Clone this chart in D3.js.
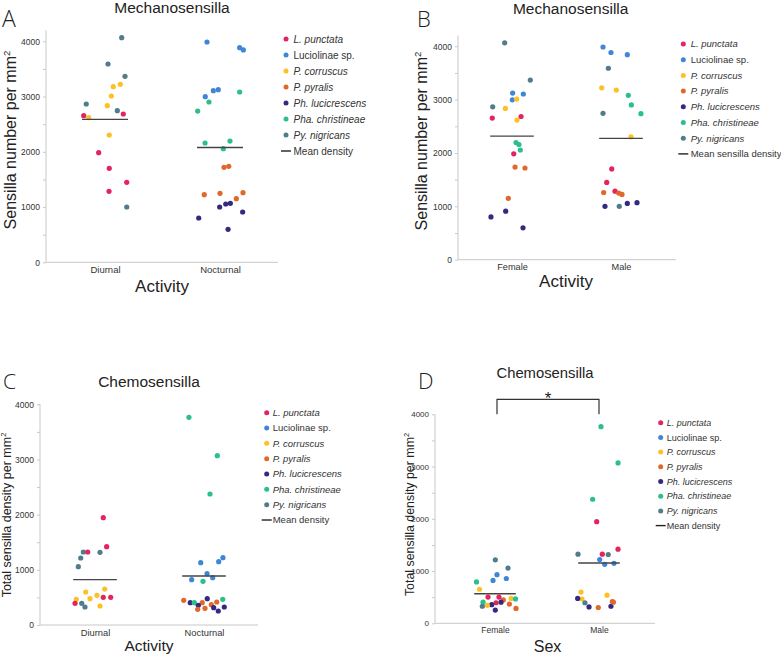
<!DOCTYPE html>
<html>
<head>
<meta charset="utf-8">
<script src="https://cdn.jsdelivr.net/npm/d3@7"></script>
<style>
  body { margin: 0; background: #fff; }
  svg { display: block; font-family: "Liberation Sans", Arial, sans-serif; }
</style>
</head>
<body>
<svg id="fig" width="781" height="656"></svg>
<script>
// species legend
const species = ["L. punctata", "Luciolinae sp.", "P. corruscus", "P. pyralis", "Ph. lucicrescens", "Pha. christineae", "Py. nigricans"];
const speciesItalic = [true, false, true, true, true, true, true];
const speciesColors = ["#e3245e", "#3f87d6", "#fcc125", "#e1672b", "#35297f", "#2abf8c", "#4f7d8b"];

const activityGroups = ["Diurnal", "Nocturnal"];
const sexGroups = ["Female", "Male"];
const yTicks = [0, 1000, 2000, 3000, 4000];
const yMinorTicks = [500, 1500, 2500, 3500];

// [species index, group index, density per mm2, jitter (fraction of group spacing)]
const mechActivity = [
  [6,0,4065,0.145],[6,0,3589,0.026],[6,0,3366,0.174],[2,0,3222,0.133],[2,0,3179,0.072],
  [2,0,3010,0.055],[6,0,2865,-0.163],[2,0,2835,0.020],[6,0,2744,0.107],[0,0,2684,0.159],
  [0,0,2654,-0.185],[2,0,2618,-0.142],[2,0,2304,0.037],[0,0,1984,-0.055],[0,0,1701,0.037],
  [0,0,1448,0.189],[0,0,1285,0.035],[6,0,1001,0.189],
  [1,1,3987,-0.113],[1,1,3884,0.171],[1,1,3843,0.203],[1,1,3124,-0.015],[1,1,3106,-0.058],
  [5,1,3082,0.171],[1,1,2997,-0.128],[5,1,2901,-0.096],[5,1,2738,-0.194],[5,1,2195,0.087],
  [5,1,2159,-0.130],[5,1,2056,0.029],[3,1,1737,0.076],[3,1,1719,0.035],[3,1,1260,0.200],
  [3,1,1249,0.000],[3,1,1224,-0.137],[3,1,1151,0.142],[4,1,1068,0.090],[4,1,1055,0.050],
  [4,1,1001,-0.003],[4,1,910,0.197],[4,1,802,-0.185],[4,1,597,0.070]
];

const mechSex = [
  [6,0,4065,-0.067],[6,0,3366,0.168],[1,0,3124,0.006],[1,0,3106,0.104],[1,0,2997,0.003],
  [2,0,3010,0.043],[6,0,2865,-0.177],[2,0,2835,-0.061],[0,0,2684,0.083],[0,0,2654,-0.181],
  [2,0,2618,0.046],[5,0,2195,0.037],[5,0,2159,0.064],[5,0,2056,0.076],[0,0,1984,0.016],
  [3,0,1737,0.028],[3,0,1719,0.119],[3,0,1151,-0.034],[4,0,910,-0.058],[4,0,802,-0.193],
  [4,0,597,0.101],
  [1,1,3987,-0.165],[1,1,3884,-0.092],[1,1,3843,0.058],[6,1,3589,-0.116],[2,1,3222,-0.177],
  [2,1,3179,-0.043],[5,1,3082,0.067],[5,1,2901,0.095],[5,1,2738,0.183],[6,1,2744,-0.165],
  [2,1,2304,0.092],[0,1,1701,-0.085],[0,1,1448,-0.131],[0,1,1285,-0.055],[3,1,1260,-0.159],
  [3,1,1249,-0.021],[3,1,1224,0.009],[4,1,1001,-0.147],[6,1,1001,-0.016],[4,1,1055,0.058],
  [4,1,1068,0.147]
];

const chemoActivity = [
  [0,0,1945,0.076],[0,0,1419,0.107],[6,0,1323,-0.107],[0,0,1323,-0.067],[6,0,1317,0.046],
  [6,0,1214,-0.131],[6,0,1057,-0.153],[2,0,652,0.089],[2,0,598,-0.085],[2,0,538,0.018],
  [0,0,502,0.076],[0,0,502,0.144],[2,0,477,-0.046],[2,0,465,-0.172],[0,0,393,-0.183],
  [6,0,393,-0.122],[2,0,344,0.046],[6,0,326,-0.092],
  [5,1,3764,-0.138],[5,1,3069,0.122],[5,1,2374,0.055],[1,1,1220,0.174],[1,1,1148,0.135],
  [1,1,1129,-0.030],[1,1,930,0.028],[1,1,857,0.080],[1,1,821,-0.113],[5,1,791,-0.009],
  [4,1,477,0.030],[5,1,466,0.172],[3,1,447,-0.186],[3,1,417,0.117],[4,1,404,-0.126],
  [5,1,404,-0.089],[3,1,404,-0.016],[3,1,368,0.067],[4,1,357,-0.052],[4,1,326,0.186],
  [4,1,314,0.089],[3,1,302,0.009],[3,1,284,-0.058],[4,1,254,0.131]
];

const chemoSex = [
  [6,0,1214,0.003],[6,0,1057,0.125],[1,0,930,0.019],[1,0,857,0.109],[1,0,821,-0.019],
  [5,0,791,-0.178],[2,0,652,-0.149],[0,0,502,-0.067],[0,0,502,0.038],[2,0,477,0.154],
  [5,0,466,0.197],[3,0,447,0.080],[5,0,404,-0.115],[4,0,404,0.058],[0,0,393,0.010],
  [3,0,368,0.138],[4,0,357,-0.032],[2,0,344,-0.074],[6,0,326,-0.122],[3,0,284,0.202],
  [4,0,254,0.003],
  [5,1,3764,0.019],[5,1,3069,0.183],[5,1,2374,-0.061],[0,1,1945,-0.022],[0,1,1419,0.183],
  [6,1,1323,-0.202],[0,1,1323,0.032],[6,1,1317,0.089],[1,1,1220,0.007],[1,1,1148,0.144],
  [1,1,1129,0.055],[2,1,598,-0.173],[2,1,538,0.077],[2,1,465,-0.163],[4,1,477,-0.205],
  [6,1,393,-0.135],[4,1,326,0.115],[4,1,314,-0.096],[3,1,417,0.128],[3,1,404,0.138],
  [3,1,302,-0.007]
];

var svg = d3.select("#fig");

var panels = [
  {letter: "A", data: mechActivity, groups: activityGroups,
   axisX: 46, axisEnd: 278, c0: 105, c1: 220, y0: 262.3, y4000: 41.3, yTop: 4200,
   title: "Mechanosensilla", titleX: 172, titleY: 13, titleSize: 15.5,
   letterX: 2, letterY: 27, letterSize: 23,
   yLabel: "Sensilla number per mm", yLabelX: 16, yLabelY: 140, yLabelSize: 16,
   xLabel: "Activity", xLabelX: 162, xLabelY: 292, xLabelSize: 17,
   tickSize: 8.5, catSize: 9.5,
   legendX: 286, legendY: 39, legendDy: 16, legendSize: 10, legendDx: 7.5, meanLabel: "Mean density"},
  {letter: "B", data: mechSex, groups: sexGroups,
   axisX: 458, axisEnd: 676, c0: 512, c1: 621, y0: 259.7, y4000: 46.3, yTop: 4200,
   title: "Mechanosensilla", titleX: 570.7, titleY: 14, titleSize: 15.5,
   letterX: 417, letterY: 26.7, letterSize: 22,
   yLabel: "Sensilla number per mm", yLabelX: 427, yLabelY: 141, yLabelSize: 16,
   xLabel: "Activity", xLabelX: 566, xLabelY: 287, xLabelSize: 17,
   tickSize: 8.5, catSize: 9.2,
   legendX: 683.3, legendY: 44, legendDy: 15.7, legendSize: 9.5, legendDx: 7.4, meanLabel: "Mean sensilla density"},
  {letter: "C", data: chemoActivity, groups: activityGroups,
   axisX: 40, axisEnd: 258, c0: 95, c1: 204, y0: 625, y4000: 404.3, yTop: 4000,
   title: "Chemosensilla", titleX: 149, titleY: 386.7, titleSize: 15.5,
   letterX: 3, letterY: 389, letterSize: 21,
   yLabel: "Total sensilla density per mm", yLabelX: 11, yLabelY: 515, yLabelSize: 12.5,
   xLabel: "Activity", xLabelX: 149, xLabelY: 651, xLabelSize: 15.5,
   tickSize: 8.5, catSize: 9.3,
   legendX: 266.7, legendY: 412.7, legendDy: 15.33, legendSize: 9.5, legendDx: 6, meanLabel: "Mean density"},
  {letter: "D", data: chemoSex, groups: sexGroups,
   axisX: 435, axisEnd: 655, c0: 495, c1: 599, y0: 623.3, y4000: 414.3, yTop: 4000,
   title: "Chemosensilla", titleX: 545, titleY: 378.3, titleSize: 14.8,
   letterX: 418, letterY: 389, letterSize: 22,
   yLabel: "Total sensilla density per mm", yLabelX: 414, yLabelY: 514.5, yLabelSize: 12.4,
   xLabel: "Sex", xLabelX: 547.5, xLabelY: 652, xLabelSize: 16,
   tickSize: 8, catSize: 8.5,
   legendX: 660.7, legendY: 422.7, legendDy: 14.7, legendSize: 9, legendDx: 6, meanLabel: "Mean density",
   bracket: true}
];

panels.forEach(function(p) {
  var g = svg.append("g").attr("class", "panel");
  var x = d3.scaleLinear().domain([0, 1]).range([p.c0, p.c1]);
  var y = d3.scaleLinear().domain([0, 4000]).range([p.y0, p.y4000]);

  // axis lines
  g.append("line")
      .attr("x1", p.axisX).attr("x2", p.axisX)
      .attr("y1", y(0)).attr("y2", y(p.yTop))
      .attr("stroke", "#c8c8c8");
  g.append("line")
      .attr("x1", p.axisX).attr("x2", p.axisEnd)
      .attr("y1", y(0)).attr("y2", y(0))
      .attr("stroke", "#c8c8c8");

  var yAxis = g.append("g")
      .attr("transform", `translate(${p.axisX},0)`)
      .call(d3.axisLeft(y).tickValues(yTicks).tickSize(3).tickPadding(3).tickFormat(d3.format("d")));
  yAxis.select(".domain").remove();
  yAxis.selectAll("line").attr("stroke", "#c8c8c8");
  yAxis.selectAll("text")
      .attr("fill", "#333")
      .style("font-size", p.tickSize + "px")
      .style("font-family", "'Liberation Sans', Arial, sans-serif");

  var yMinor = g.append("g")
      .attr("transform", `translate(${p.axisX},0)`)
      .call(d3.axisLeft(y).tickValues(yMinorTicks).tickSize(3).tickFormat(""));
  yMinor.select(".domain").remove();
  yMinor.selectAll("line").attr("stroke", "#c8c8c8");

  var xAxis = g.append("g")
      .attr("transform", `translate(0,${y(0)})`)
      .call(d3.axisBottom(x).tickValues([0, 1]).tickSize(0).tickPadding(4)
          .tickFormat(i => p.groups[i]));
  xAxis.select(".domain").remove();
  xAxis.selectAll("text")
      .attr("fill", "#333")
      .style("font-size", p.catSize + "px")
      .style("font-family", "'Liberation Sans', Arial, sans-serif");

  // points
  g.selectAll("circle.pt")
    .data(p.data)
    .join("circle")
      .attr("class", "pt")
      .attr("cx", d => x(d[1] + d[3]))
      .attr("cy", d => y(d[2]))
      .attr("r", 2.6)
      .attr("fill", d => speciesColors[d[0]]);

  // mean lines
  var means = p.groups.map(function(name, i) {
    return d3.mean(p.data.filter(d => d[1] === i), d => d[2]);
  });
  g.selectAll("line.mean")
    .data(means)
    .join("line")
      .attr("class", "mean")
      .attr("x1", (m, i) => x(i - 0.2))
      .attr("x2", (m, i) => x(i + 0.2))
      .attr("y1", m => y(m))
      .attr("y2", m => y(m))
      .attr("stroke", "#444")
      .attr("stroke-width", 1.4);

  // titles and labels
  g.append("text")
      .attr("x", p.titleX).attr("y", p.titleY)
      .attr("text-anchor", "middle")
      .style("font-size", p.titleSize + "px")
      .attr("fill", "#222")
      .text(p.title);

  g.append("text")
      .attr("x", p.letterX).attr("y", p.letterY)
      .style("font-size", p.letterSize + "px")
      .style("font-family", "'Open Sans', 'Liberation Sans', sans-serif")
      .style("font-weight", 300)
      .attr("fill", "#222")
      .text(p.letter);

  var yl = g.append("text")
      .attr("transform", `translate(${p.yLabelX},${p.yLabelY}) rotate(-90)`)
      .attr("text-anchor", "middle")
      .style("font-size", p.yLabelSize + "px")
      .attr("fill", "#222");
  yl.append("tspan").text(p.yLabel);
  yl.append("tspan")
      .attr("dy", -p.yLabelSize * 0.4)
      .style("font-size", (p.yLabelSize * 0.6) + "px")
      .text("2");

  g.append("text")
      .attr("x", p.xLabelX).attr("y", p.xLabelY)
      .attr("text-anchor", "middle")
      .style("font-size", p.xLabelSize + "px")
      .attr("fill", "#222")
      .text(p.xLabel);

  // legend
  var leg = g.append("g");
  species.forEach(function(name, i) {
    var ly = p.legendY + i * p.legendDy;
    leg.append("circle")
        .attr("cx", p.legendX).attr("cy", ly)
        .attr("r", 2.5)
        .attr("fill", speciesColors[i]);
    leg.append("text")
        .attr("x", p.legendX + p.legendDx).attr("y", ly + p.legendSize * 0.35)
        .style("font-size", p.legendSize + "px")
        .style("font-style", speciesItalic[i] ? "italic" : "normal")
        .attr("fill", "#333")
        .text(name);
  });
  var my = p.legendY + species.length * p.legendDy;
  leg.append("line")
      .attr("x1", p.legendX - 5).attr("x2", p.legendX + 5)
      .attr("y1", my).attr("y2", my)
      .attr("stroke", "#222").attr("stroke-width", 1.4);
  leg.append("text")
      .attr("x", p.legendX + p.legendDx).attr("y", my + p.legendSize * 0.35)
      .style("font-size", p.legendSize + "px")
      .attr("fill", "#333")
      .text(p.meanLabel);

  // significance bracket
  if (p.bracket) {
    var top = y(4000) - 15;
    g.append("path")
        .attr("d", `M${x(0) + 2},${y(4000)}V${top}H${x(1)}V${y(4000)}`)
        .attr("fill", "none")
        .attr("stroke", "#333")
        .attr("stroke-width", 1.2);
    g.append("text")
        .attr("x", (x(0) + x(1)) / 2 + 1).attr("y", top + 5)
        .attr("text-anchor", "middle")
        .style("font-size", "17px")
        .attr("fill", "#222")
        .text("*");
  }
});
</script>
</body>
</html>
